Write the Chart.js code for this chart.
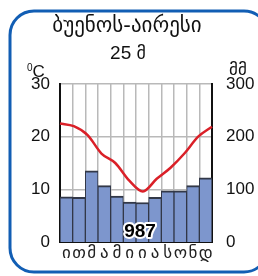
<!DOCTYPE html>
<html><head><meta charset="utf-8">
<script src="https://cdn.jsdelivr.net/npm/chart.js@4"></script>
<style>
html,body{margin:0;padding:0;background:#fff;}
#wrap{position:relative;width:258px;height:276px;overflow:hidden;font-family:"Liberation Sans","DejaVu Sans",Arial,sans-serif;}
canvas{position:absolute;left:0;top:0;}
.t{position:absolute;white-space:nowrap;color:#111;line-height:1;}
</style></head><body>
<div id="wrap">
<canvas id="c" width="258" height="276"></canvas>
<div class="t" id="title" style="left:0;width:254px;text-align:center;top:15px;font-size:21px;font-family:'DejaVu Sans',sans-serif;">ბუენოს-აირესი</div>
<div class="t" style="left:0;width:256px;text-align:center;top:43px;font-size:19px;">25 <span style="font-family:'DejaVu Sans',sans-serif;font-size:18px;">მ</span></div>
<div class="t" style="left:27px;top:63px;font-size:17px;"><span style="font-size:10px;vertical-align:6px;">0</span>C</div>
<div class="t" style="left:229px;top:61px;font-size:17px;font-family:'DejaVu Sans',sans-serif;">მმ</div>
</div>
<script>
const months = ["ი","თ","მ","ა","მ","ი","ი","ა","ს","ო","ნ","დ"];
const precipitation = [86, 85, 135, 107, 87, 76, 75, 85, 97, 97, 107, 122];
const temperature = [22.5, 22.0, 20.3, 16.8, 15.0, 11.7, 9.6, 12.0, 14.1, 16.8, 20.0, 21.9];
const tempTicks = [0, 10, 20, 30];
const precTicks = [0, 100, 200, 300];
const totalLabel = "987";

const frame = {
  id: 'frame',
  afterDraw(chart) {
    const ctx = chart.ctx;
    ctx.save();
    ctx.strokeStyle = 'rgb(18,94,180)';
    ctx.lineWidth = 3;
    const x = 10, y = 11, w = 258, h = 261, r = 24;
    ctx.beginPath();
    ctx.moveTo(x + r, y);
    ctx.lineTo(x + w - r, y);
    ctx.arcTo(x + w, y, x + w, y + r, r);
    ctx.lineTo(x + w, y + h - r);
    ctx.arcTo(x + w, y + h, x + w - r, y + h, r);
    ctx.lineTo(x + r, y + h);
    ctx.arcTo(x, y + h, x, y + h - r, r);
    ctx.lineTo(x, y + r);
    ctx.arcTo(x, y, x + r, y, r);
    ctx.closePath();
    ctx.stroke();
    const a = chart.chartArea;
    ctx.font = 'bold 19px "Liberation Sans", Arial, sans-serif';
    ctx.textAlign = 'center';
    ctx.textBaseline = 'middle';
    ctx.lineJoin = 'round';
    ctx.lineWidth = 4;
    ctx.strokeStyle = '#fff';
    const cx = (a.left + a.right) / 2 + 4, cy = a.bottom - 10;
    ctx.strokeText(totalLabel, cx, cy);
    ctx.fillStyle = '#000';
    ctx.fillText(totalLabel, cx, cy);
    ctx.restore();
  }
};

new Chart(document.getElementById('c'), {
  type: 'bar',
  data: {
    labels: months,
    datasets: [
      { type: 'line', data: temperature, xAxisID: 'x2', yAxisID: 'y', borderColor: 'rgb(218,32,40)', borderWidth: 2.5, pointRadius: 0, tension: 0.4, cubicInterpolationMode: 'monotone', order: 0 },
      { type: 'bar', data: precipitation, xAxisID: 'x', yAxisID: 'y1', backgroundColor: 'rgb(125,150,205)', borderColor: 'rgb(50,56,72)', borderWidth: {top: 2, left: 1, right: 1, bottom: 0}, borderSkipped: false, barPercentage: 1, categoryPercentage: 1, grouped: false, order: 1 }
    ]
  },
  options: {
    responsive: false, animation: false, devicePixelRatio: 1,
    datasets: { bar: { barPercentage: 1, categoryPercentage: 1 } },
    layout: { padding: { left: 0, right: 0, top: 84, bottom: 0 } },
    plugins: { legend: { display: false }, tooltip: { enabled: false } },
    scales: {
      x: {
        type: 'category', offset: true,
        grid: { offset: true, color: '#b9b9b9', lineWidth: 1.5, drawTicks: false },
        border: { display: true, color: '#111', width: 2 },
        ticks: { color: '#222', padding: 1, font: { family: '"DejaVu Sans", sans-serif', size: 17 }, maxRotation: 0, autoSkip: false },
        afterFit(s) { s.height = 34; }
      },
      x2: { type: 'category', offset: false, display: false },
      y: {
        position: 'left', min: 0, max: 30,
        afterBuildTicks(s) { s.ticks = tempTicks.map(v => ({ value: v })); },
        grid: { color: '#b9b9b9', lineWidth: 1.5, drawTicks: false },
        border: { display: true, color: '#111', width: 2 },
        ticks: { color: '#111', padding: 10, font: { family: '"Liberation Sans", Arial, sans-serif', size: 17 } },
        afterFit(s) { s.width = 60; }
      },
      y1: {
        position: 'right', min: 0, max: 300,
        afterBuildTicks(s) { s.ticks = precTicks.map(v => ({ value: v })); },
        grid: { display: false, drawTicks: false },
        border: { display: true, color: '#111', width: 2 },
        ticks: { color: '#111', padding: 14, font: { family: '"Liberation Sans", Arial, sans-serif', size: 17 } },
        afterFit(s) { s.width = 46; }
      }
    }
  },
  plugins: [frame]
});
</script>
</body></html>
